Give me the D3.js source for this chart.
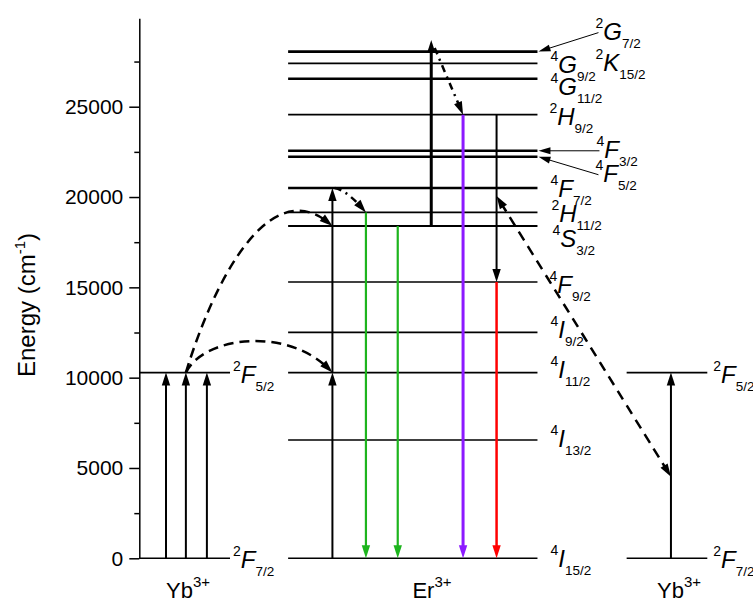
<!DOCTYPE html>
<html>
<head>
<meta charset="utf-8">
<script src="https://cdn.jsdelivr.net/npm/d3@7"></script>
<style>
  body { margin: 0; background: #fff; }
  text { font-family: "Liberation Sans", Arial, sans-serif; fill: #000; }
</style>
</head>
<body>
<script>
// ---- data (energies in cm^-1) ----
var ybLevels = [
  { id: '2F7/2', E: 0 },
  { id: '2F5/2', E: 10280 }
]

var erLevels = [
  { id: '4I15/2', E: 0 },
  { id: '4I13/2', E: 6550 },
  { id: '4I11/2', E: 10280 },
  { id: '4I9/2', E: 12510 },
  { id: '4F9/2', E: 15300 },
  { id: '4S3/2', E: 18400 },
  { id: '2H11/2', E: 19150 },
  { id: '4F7/2', E: 20500 },
  { id: '4F5/2', E: 22230 },
  { id: '4F3/2', E: 22560 },
  { id: '2H9/2', E: 24560 },
  { id: '4G11/2', E: 26550 },
  { id: '4G9/2', E: 27400 },
  { id: '2G7/2', E: 28050 }
]

// extra term sharing the 4G9/2 line
var erExtraTerms = [{ id: '2K15/2', level: '4G9/2' }]

var ybPumps = [
  { from: 0, to: 10280 },
  { from: 0, to: 10280 },
  { from: 0, to: 10280 }
]
var ybRightPumps = [{ from: 0, to: 10280 }]

var erArrows = [
  { from: 0, to: 10280, kind: 'pump' },
  { from: 10280, to: 20500, kind: 'pump' },
  { from: 19150, to: 0, kind: 'green' },
  { from: 18400, to: 0, kind: 'green' },
  { from: 18400, to: 28700, kind: 'pumpBold' },
  { from: 24560, to: 0, kind: 'violet' },
  { from: 24560, to: 15300, kind: 'pump' },
  { from: 15300, to: 0, kind: 'red' }
]

// energy transfer / relaxation paths
var transfers = [
  { from: 10280, to: 18400 },
  { from: 10280, to: 10280 },
  { from: 20500, to: 19150 },
  { from: 28250, to: 24560 },
  { from: 20060, to: 4520 }
]

var majorTicks = [0, 5000, 10000, 15000, 20000, 25000]
var minorTicks = [2500, 7500, 12500, 17500, 22500, 27500]
var ionNames = ['Yb', 'Er', 'Yb']

// ---- layout ----
var W = 753, H = 616
var y = d3.scaleLinear().domain([0, 29900]).range([558.3, 18.2])
var x = d3.scaleLinear().domain([0, 100]).range([139.3, 707.3])

var groups = { ybL: [0, 15.97], er: [26.2, 70.1], ybR: [85.8, 100] }
var ybPumpCols = [4.7, 8.2, 11.9]
var ybRightCols = [93.6]
var erArrowCols = [34.0, 34.0, 39.9, 45.5, 51.4, 57.0, 62.9, 62.9]
var ionCenters = [188, 432, 679]

var thick = { '2G7/2': 2.6, '4G11/2': 2.6, '4F3/2': 2.6, '4F5/2': 2.6, '4F7/2': 2.6, '4S3/2': 2, '4G9/2': 1.8 }
var colors = { pump: '#000', pumpBold: '#000', green: '#1db41d', violet: '#8c1aff', red: '#ff0000' }
var widths = { pump: 2, pumpBold: 3, green: 2.2, violet: 3, red: 2.5 }

// label placement: [dx from Er line end, baseline offset from line]
var erLabelPos = {
  '4I15/2': [13, 9], '4I13/2': [13, 7], '4I11/2': [13, 5.5], '4I9/2': [13, 6],
  '4F9/2': [12, 11], '4S3/2': [15, 21], '2H11/2': [14, 10], '4F7/2': [13, 9],
  '4F5/2': [58, 25], '4F3/2': [59, 7], '2H9/2': [12, 10], '4G11/2': [13, 16],
  '4G9/2': [13, 10], '2K15/2': [58, 8], '2G7/2': [58, -12]
}
var pointed = ['2G7/2', '4F3/2', '4F5/2']

var transferShapes = [
  { x0: 8.2, x1: 34.0, c1: [28, -92], c2: [-62, -56], dash: '10,6', heads: 'end' },
  { x0: 8.2, x1: 34.0, c1: [18, -37], c2: [-42, -47], dash: '10,6', heads: 'end' },
  { x0: 34.4, x1: 39.9, c1: [10, 2], c2: [-10, -12], dash: '7,5,2,5', heads: 'end' },
  { x0: 52.0, x1: 57.0, c1: [0, 0], c2: [0, 0], dash: '7,5,2,5', heads: 'end' },
  { x0: 62.9, x1: 93.6, c1: [0, 0], c2: [0, 0], dash: '10,7', heads: 'both' }
]

var svg = d3.select('body').append('svg').attr('width', W).attr('height', H)

// ---- axis ----
var axisG = svg.append('g').attr('transform', 'translate(' + x(0) + ',0)')
axisG.call(d3.axisLeft(y).tickValues(majorTicks).tickSize(10).tickPadding(6)
  .tickSizeOuter(0).tickFormat(d3.format('d')))
axisG.append('g').call(d3.axisLeft(y).tickValues(minorTicks).tickSize(5).tickFormat(''))
  .select('.domain').remove()
axisG.selectAll('path,line').attr('stroke', '#000').attr('stroke-width', 1.5)
axisG.selectAll('text').attr('font-size', 21).attr('font-family', '"Liberation Sans", Arial, sans-serif')

var title = svg.append('text').attr('transform', 'translate(35,305) rotate(-90)')
  .attr('text-anchor', 'middle').attr('font-size', 24)
title.append('tspan').text('Energy (cm')
title.append('tspan').attr('font-size', 15).attr('dy', -10).text('-1')
title.append('tspan').attr('dy', 10).text(')')

// ---- helpers ----
function head(g, tip, dir, color, len, hw) {
  var l = Math.hypot(dir[0], dir[1]), ux = dir[0] / l, uy = dir[1] / l
  var bx = tip[0] - ux * len, by = tip[1] - uy * len
  g.append('path')
    .attr('d', 'M' + tip[0] + ',' + tip[1] + 'L' + (bx - uy * hw) + ',' + (by + ux * hw) +
      'L' + (bx + uy * hw) + ',' + (by - ux * hw) + 'Z')
    .attr('fill', color)
}

function vArrow(g, col, e0, e1, color, w) {
  var x0 = x(col), y0 = y(e0), y1 = y(e1), dir = y1 < y0 ? -1 : 1
  g.append('line').attr('x1', x0).attr('x2', x0).attr('y1', y0).attr('y2', y1 - dir * 8)
    .attr('stroke', color).attr('stroke-width', w)
  head(g, [x0, y1], [0, dir], color, 13, 4.2)
}

// term symbol: superscript multiplicity, italic letter, subscript J (separate texts)
function term(g, tx, base, id) {
  var m = id.match(/^(\d)([A-Z])(.+)$/)
  var sup = g.append('text').attr('x', tx).attr('y', base - 12).attr('font-size', 14).text(m[1])
  var x1 = tx + sup.node().getComputedTextLength()
  var main = g.append('text').attr('x', x1).attr('y', base).attr('font-size', 24)
    .attr('font-style', 'italic').text(m[2])
  var x2 = x1 + main.node().getComputedTextLength()
  g.append('text').attr('x', x2).attr('y', base + 8).attr('font-size', 13.5).text(m[3])
}

function lerp(a, b, t) { return [a[0] + (b[0] - a[0]) * t, a[1] + (b[1] - a[1]) * t] }
function bez(p, t) {
  var a = lerp(p[0], p[1], t), b = lerp(p[1], p[2], t), c = lerp(p[2], p[3], t)
  var d = lerp(a, b, t), e = lerp(b, c, t)
  return { pt: lerp(d, e, t), left: [p[0], a, d, lerp(d, e, t)] }
}
function cutEnd(p, cut) {
  var t = 1
  while (t > 0 && Math.hypot(bez(p, t).pt[0] - p[3][0], bez(p, t).pt[1] - p[3][1]) < cut) t -= 0.005
  return bez(p, t)
}

// ---- levels ----
var lv = svg.append('g')
function drawLevels(levels, span) {
  lv.selectAll(null).data(levels).enter().append('line')
    .attr('x1', x(span[0])).attr('x2', x(span[1]))
    .attr('y1', function (d) { return y(d.E) }).attr('y2', function (d) { return y(d.E) })
    .attr('stroke', '#000').attr('stroke-width', function (d) { return thick[d.id] || 1.6 })
}
drawLevels(ybLevels, groups.ybL)
drawLevels(erLevels, groups.er)
drawLevels(ybLevels, groups.ybR)

// ---- level labels ----
var lab = svg.append('g')
ybLevels.forEach(function (d) {
  term(lab, x(groups.ybL[1]) + 3, y(d.E) + 10, d.id)
  term(lab, x(groups.ybR[1]) + 6, y(d.E) + 10, d.id)
})
var erE = {}
erLevels.forEach(function (d) { erE[d.id] = d.E })
var xr = x(groups.er[1])
erLevels.concat(erExtraTerms).forEach(function (d) {
  var E = d.level ? erE[d.level] : d.E, p = erLabelPos[d.id]
  var tx = xr + p[0], base = y(E) + p[1]
  term(lab, tx, base, d.id)
  if (pointed.indexOf(d.id) >= 0) {
    var sx = tx + 3, sy = base - 7, ex = xr + 1, ey = y(E)
    var len = Math.hypot(sx - ex, sy - ey)
    lab.append('line').attr('x1', sx).attr('y1', sy)
      .attr('x2', ex + 10 * (sx - ex) / len).attr('y2', ey + 10 * (sy - ey) / len)
      .attr('stroke', '#000').attr('stroke-width', 1)
    head(lab, [ex, ey], [ex - sx, ey - sy], '#000', 12, 3.5)
  }
})

// ---- transitions ----
var ar = svg.append('g')
ybPumps.forEach(function (d, i) { vArrow(ar, ybPumpCols[i], d.from, d.to, '#000', 2) })
ybRightPumps.forEach(function (d, i) { vArrow(ar, ybRightCols[i], d.from, d.to, '#000', 2) })
erArrows.forEach(function (d, i) { vArrow(ar, erArrowCols[i], d.from, d.to, colors[d.kind], widths[d.kind]) })

// ---- energy transfer paths ----
transfers.forEach(function (d, i) {
  var s = transferShapes[i]
  var A = [x(s.x0), y(d.from)], B = [x(s.x1), y(d.to)]
  var p = [A, [A[0] + s.c1[0], A[1] + s.c1[1]], [B[0] + s.c2[0], B[1] + s.c2[1]], B]
  var endCut = cutEnd(p, 8), seg = endCut.left
  head(ar, B, [B[0] - endCut.pt[0], B[1] - endCut.pt[1]], '#000', 13, 4.2)
  if (s.heads === 'both') {
    var rev = [seg[3], seg[2], seg[1], seg[0]]
    var startCut = cutEnd(rev, 8)
    seg = [startCut.left[3], startCut.left[2], startCut.left[1], startCut.left[0]]
    head(ar, A, [A[0] - startCut.pt[0], A[1] - startCut.pt[1]], '#000', 13, 4.2)
  }
  var path = d3.path()
  path.moveTo(seg[0][0], seg[0][1])
  path.bezierCurveTo(seg[1][0], seg[1][1], seg[2][0], seg[2][1], seg[3][0], seg[3][1])
  ar.append('path').attr('d', path.toString()).attr('fill', 'none')
    .attr('stroke', '#000').attr('stroke-width', 2.5).attr('stroke-dasharray', s.dash)
})

// ---- ion names ----
ionNames.forEach(function (n, i) {
  var t = svg.append('text').attr('x', ionCenters[i]).attr('y', 598)
    .attr('text-anchor', 'middle').attr('font-size', 22)
  t.append('tspan').text(n)
  t.append('tspan').attr('font-size', 15).attr('dy', -11).text('3+')
})
</script>
</body>
</html>
